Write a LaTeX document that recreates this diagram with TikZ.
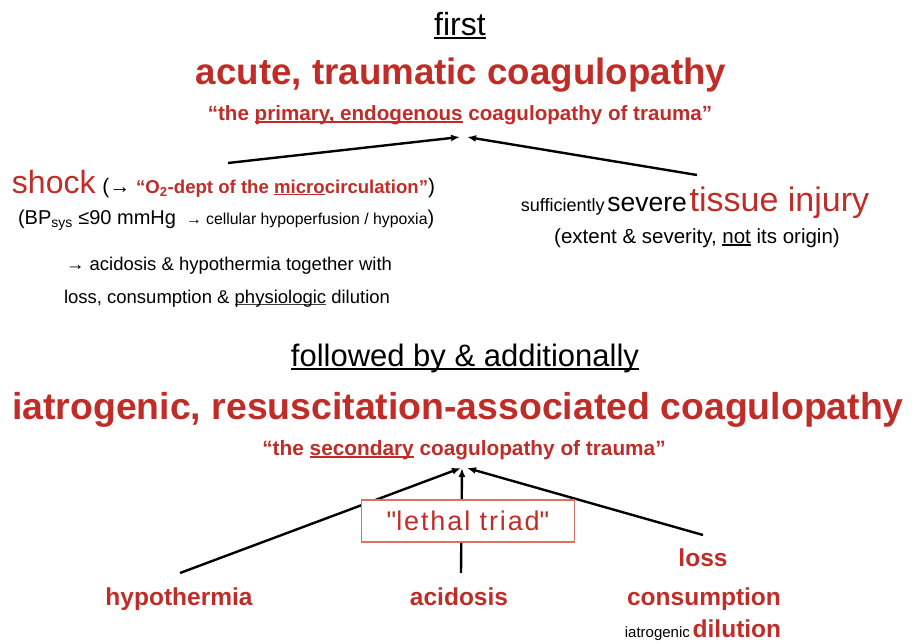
\documentclass[tikz,border=0pt]{standalone}
\usepackage{fontspec}
\setmainfont{Liberation Sans}
\usetikzlibrary{arrows.meta}
\definecolor{tred}{RGB}{192,45,40}
\definecolor{boxred}{RGB}{220,112,100}
\newcommand\fs[1]{\fontsize{#1}{#1}\selectfont}
\newcommand\myul[2]{\leavevmode\setbox0\hbox{#2}\rlap{\color{#1}\rule[-0.13em]{\wd0}{0.07em}}\box0\relax}
\tikzset{
  lbl/.style={anchor=base, inner sep=0pt, outer sep=0pt},
  lblw/.style={anchor=base west, inner sep=0pt, outer sep=0pt},
  arr/.style={line width=2.4pt, -{Latex[length=9pt,width=7pt]}},
  triadbox/.style={draw=boxred, line width=1.8pt, fill=white, minimum width=213pt, minimum height=42pt, inner sep=0pt},
}
\begin{document}
\begin{tikzpicture}[x=1pt,y=-1pt]
\useasboundingbox[fill=white] (0,0) rectangle (918,643);

% ---------- top part ----------
\node[lbl] (first) at (460,35) {\fs{32}\myul{black}{first}};
\node[lbl] (t1) at (461,84) {\fs{36.7}\bfseries\color{tred}acute, traumatic coagulopathy};
\node[lbl] (s1) at (460,120) {\fs{20.6}\bfseries\color{tred}“the \myul{tred}{primary, endogenous} coagulopathy of trauma”};

\node[lblw] (shock) at (12,193) {{\fs{32}\color{tred}shock}\hspace{4pt} {\fs{21}(→ }{\fs{18.6}\bfseries\color{tred}“O\textsubscript{2}-dept of the \myul{tred}{micro}circulation”}{\fs{21})}};
\node[lblw] (bp) at (18,224) {{\fs{20}(BP\textsubscript{sys} ≤90 mmHg}\hspace{10pt}{\fs{15.8}→ cellular hypoperfusion / hypoxia}{\fs{20})}};
\node[lbl] (acid1) at (229,270) {\fs{18.5}→ acidosis \& hypothermia together with};
\node[lbl] (loss1) at (227,303) {\fs{18.5}loss, consumption \& \myul{darkgray}{physiologic} dilution};

\node[lbl] (tissue) at (695,211) {{\fs{18}sufficiently} {\fs{26.5}severe} {\fs{34}\color{tred}tissue injury}};
\node[lbl] (extent) at (697,243) {\fs{20.5}(extent \& severity, \myul{black}{not} its origin)};

\coordinate (a1) at (228,163);
\coordinate (a2) at (697,175);
\coordinate (tip1) at (460,137);
\coordinate (tip2) at (467,137);
\draw[arr] (a1) -- (tip1);
\draw[arr] (a2) -- (tip2);

% ---------- bottom part ----------
\node[lbl] (followed) at (465,366) {\fs{31}\myul{black}{followed by \& additionally}};
\node[lbl] (t2) at (458,419) {\fs{37.4}\bfseries\color{tred}iatrogenic, resuscitation-associated coagulopathy};
\node[lbl] (s2) at (464,455) {\fs{20.8}\bfseries\color{tred}“the \myul{tred}{secondary} coagulopathy of trauma”};

\coordinate (b1) at (180,573);
\coordinate (b2) at (461,573);
\coordinate (b3) at (703,535);
\coordinate (tip3) at (461,468);
\coordinate (tip4) at (462,468);
\coordinate (tip5) at (467,468);
\draw[arr] (b1) -- (tip3);
\draw[arr] (b2) -- (tip4);
\draw[arr] (b3) -- (tip5);

\node[triadbox] (triad) at (468,521) {\fs{27}\addfontfeature{LetterSpace=7}\color{tred}\textquotedbl lethal triad\textquotedbl};

\node[lbl] (hypo) at (179,605) {\fs{24.5}\bfseries\color{tred}hypothermia};
\node[lbl] (acid2) at (459,605) {\fs{24.5}\bfseries\color{tred}acidosis};
\node[lbl] (loss2) at (703,566) {\fs{24.5}\bfseries\color{tred}loss};
\node[lbl] (cons) at (704,605) {\fs{24.5}\bfseries\color{tred}consumption};
\node[lbl] (dil) at (703,637) {{\fs{15}iatrogenic} {\fs{24.5}\bfseries\color{tred}dilution}};
\end{tikzpicture}
\end{document}
